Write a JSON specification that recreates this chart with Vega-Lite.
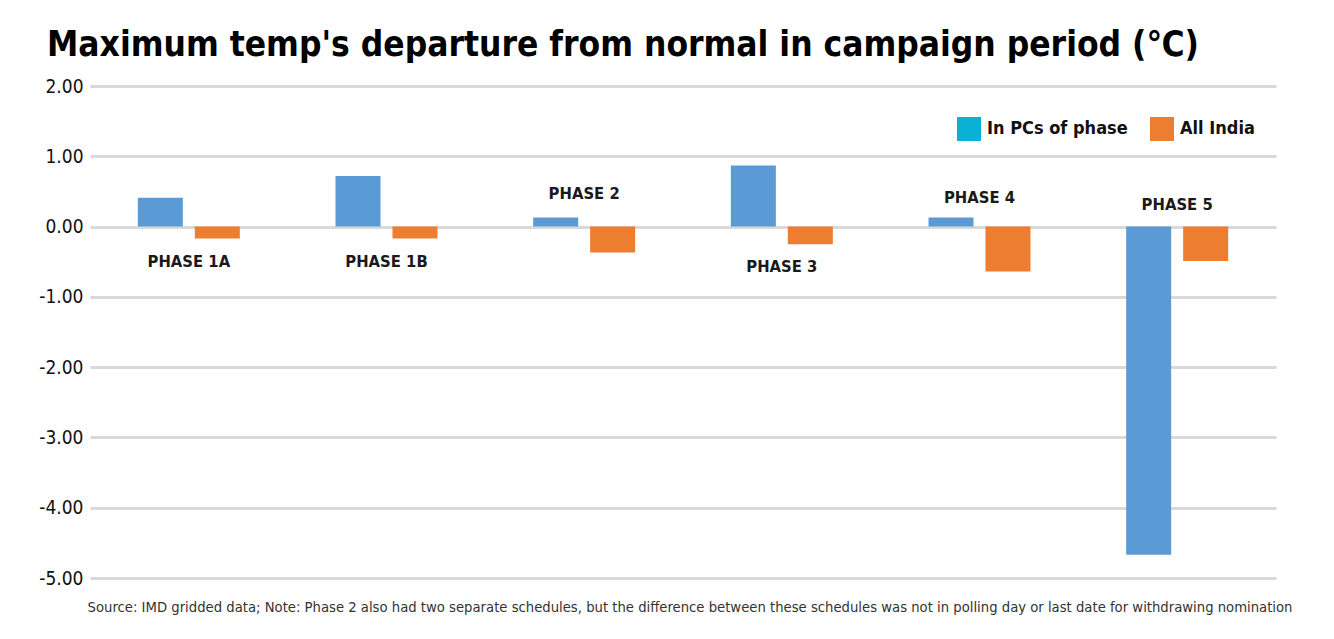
{
  "$schema": "https://vega.github.io/schema/vega-lite/v6.json",
  "width": 1186,
  "height": 492,
  "autosize": {"type": "none"},
  "padding": {"left": 90, "top": 86, "right": 58, "bottom": 61},
  "background": "white",
  "title": {
    "text": "Maximum temp's departure from normal in campaign period (℃)",
    "anchor": "start",
    "frame": "group",
    "dx": -43,
    "fontSize": 35,
    "font": "DejaVu Sans Condensed, sans-serif",
    "fontWeight": "bold",
    "color": "#000000",
    "baseline": "alphabetic",
    "offset": -14
  },
  "config": {
    "view": {"stroke": null},
    "font": "DejaVu Sans Condensed, sans-serif"
  },
  "datasets": {
    "bars": [
      {"phase": "PHASE 1A", "series": "In PCs of phase", "value": 0.41},
      {"phase": "PHASE 1A", "series": "All India", "value": -0.17},
      {"phase": "PHASE 1B", "series": "In PCs of phase", "value": 0.72},
      {"phase": "PHASE 1B", "series": "All India", "value": -0.17},
      {"phase": "PHASE 2", "series": "In PCs of phase", "value": 0.13},
      {"phase": "PHASE 2", "series": "All India", "value": -0.37},
      {"phase": "PHASE 3", "series": "In PCs of phase", "value": 0.87},
      {"phase": "PHASE 3", "series": "All India", "value": -0.25},
      {"phase": "PHASE 4", "series": "In PCs of phase", "value": 0.13},
      {"phase": "PHASE 4", "series": "All India", "value": -0.64},
      {"phase": "PHASE 5", "series": "In PCs of phase", "value": -4.67},
      {"phase": "PHASE 5", "series": "All India", "value": -0.49}
    ],
    "labels": [
      {"phase": "PHASE 1A", "ly": -0.5},
      {"phase": "PHASE 1B", "ly": -0.5},
      {"phase": "PHASE 2", "ly": 0.47},
      {"phase": "PHASE 3", "ly": -0.58},
      {"phase": "PHASE 4", "ly": 0.41},
      {"phase": "PHASE 5", "ly": 0.3}
    ]
  },
  "resolve": {"scale": {"color": "independent"}, "legend": {"color": "independent"}},
  "layer": [
    {
      "data": {"name": "bars"},
      "mark": {"type": "bar"},
      "encoding": {
        "x": {
          "field": "phase",
          "type": "nominal",
          "sort": null,
          "scale": {"paddingInner": 0.484, "paddingOuter": 0.242},
          "axis": {
            "labels": false,
            "ticks": false,
            "domain": false,
            "grid": false,
            "title": "Source: IMD gridded data; Note: Phase 2 also had two separate schedules, but the difference between these schedules was not in polling day or last date for withdrawing nomination",
            "titleFontSize": 14.7,
            "titleFontWeight": "normal",
            "titleColor": "#333333",
            "titleX": 1202,
            "titleY": 29,
            "titleAlign": "right",
            "titleBaseline": "middle"
          }
        },
        "xOffset": {
          "field": "series",
          "type": "nominal",
          "sort": ["In PCs of phase", "All India"],
          "scale": {"paddingInner": 0.21, "paddingOuter": 0}
        },
        "y": {
          "field": "value",
          "type": "quantitative",
          "scale": {"domain": [-5, 2], "nice": false},
          "axis": {
            "values": [-5, -4, -3, -2, -1, 0, 1, 2],
            "labelExpr": "replace(format(datum.value, '.2f'), '−', '-')",
            "labelFontSize": 19,
            "labelColor": "#111111",
            "labelPadding": 7,
            "grid": true,
            "gridColor": "#d9d9d9",
            "gridWidth": 3,
            "domain": false,
            "ticks": false,
            "title": null
          }
        },
        "color": {
          "field": "series",
          "type": "nominal",
          "scale": {"domain": ["In PCs of phase", "All India"], "range": ["#5B9BD5", "#ED7D31"]},
          "legend": null
        }
      }
    },
    {
      "data": {"name": "bars"},
      "transform": [{"filter": "false"}],
      "mark": {"type": "bar"},
      "encoding": {
        "x": {"field": "phase", "type": "nominal", "sort": null},
        "y": {"field": "value", "type": "quantitative"},
        "color": {
          "field": "series",
          "type": "nominal",
          "scale": {"domain": ["In PCs of phase", "All India"], "range": ["#0BB1D4", "#ED7D31"]},
          "legend": {
            "title": null,
            "orient": "none",
            "legendX": 867,
            "legendY": 31,
            "direction": "horizontal",
            "symbolType": "square",
            "symbolSize": 576,
            "symbolStrokeWidth": 0,
            "labelFontSize": 18,
            "labelFontWeight": "bold",
            "labelColor": "#111111",
            "labelOffset": 6,
            "labelLimit": 300,
            "columnPadding": 22
          }
        }
      }
    },
    {
      "data": {"name": "labels"},
      "mark": {"type": "text", "fontSize": 16.5, "fontWeight": "bold", "color": "#1a1a1a", "baseline": "middle", "align": "center"},
      "encoding": {
        "x": {"field": "phase", "type": "nominal", "sort": null},
        "y": {"field": "ly", "type": "quantitative"},
        "text": {"field": "phase"}
      }
    }
  ]
}
